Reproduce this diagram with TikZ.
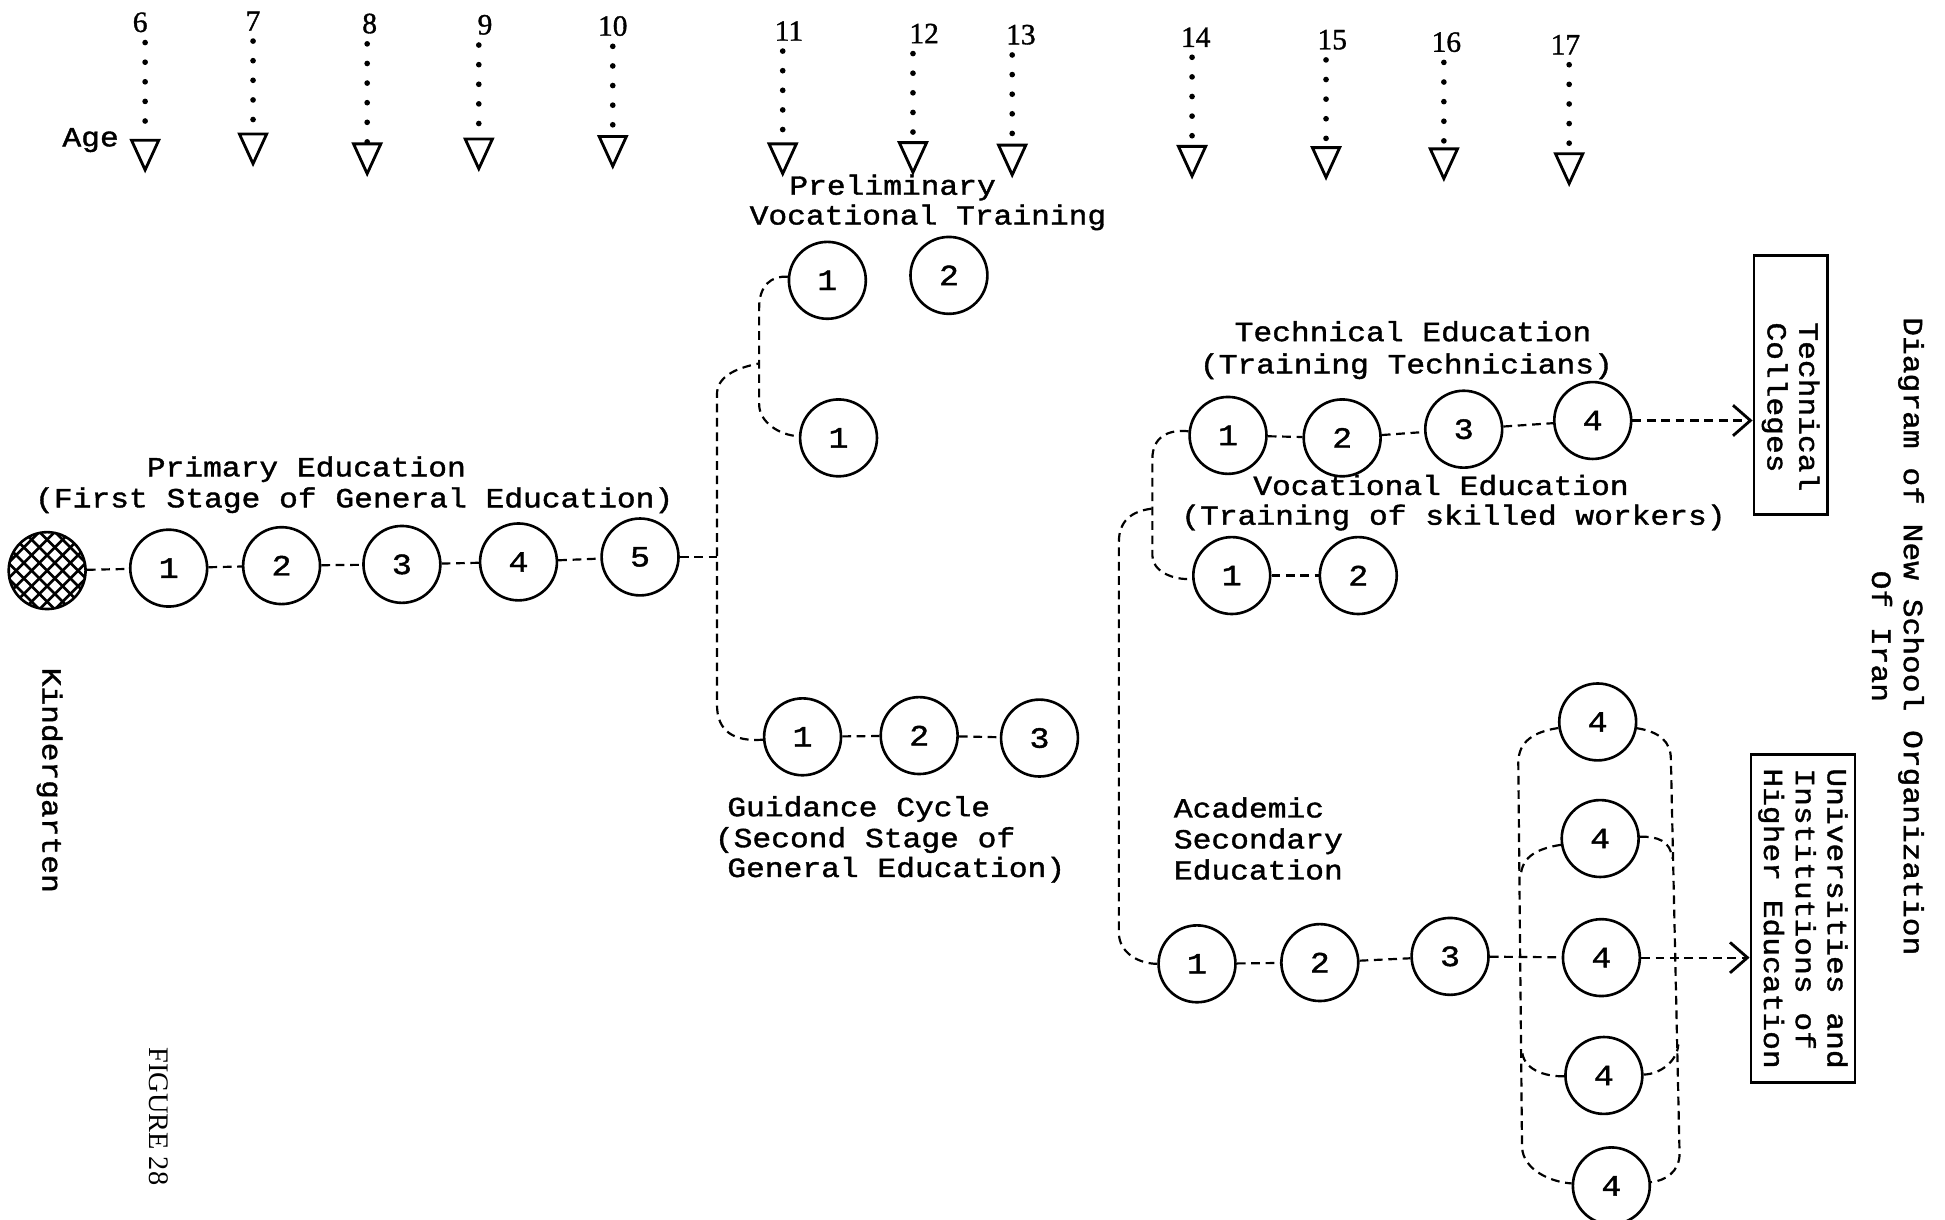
\documentclass[tikz,border=0pt]{standalone}
\usepackage{fontspec}
\setmainfont{Liberation Serif}
\newfontfamily\tw[FakeStretch=1.13, FakeBold=1.4]{Liberation Mono}
\newfontfamily\agefont[FakeBold=1.2]{Liberation Serif}
\usetikzlibrary{arrows.meta}

\begin{document}
\begin{tikzpicture}[x=0.02cm, y=-0.02cm,
  yr/.style={circle, draw, line width=1.2pt, minimum size=1.24cm, inner sep=0pt,
             font=\tw\fontsize{13.5}{13.5}\selectfont},
  lbl/.style={anchor=base west, inner sep=0pt, font=\tw\fontsize{12.7}{12.7}\selectfont},
  vlbl/.style={rotate=-90, inner sep=0pt, font=\tw\fontsize{12.7}{14.6}\selectfont},
  link/.style={line width=1pt, dash pattern=on 4pt off 2.6pt},
  feed/.style={link, -{Straight Barb[length=8pt, width=14pt, line width=1.3pt]}},
  agenum/.style={inner sep=0pt, font=\agefont\fontsize{13.5}{13.5}\selectfont},
  agedots/.style={line width=2.6pt, line cap=round, dash pattern=on 0pt off 9pt},
  agetip/.style={line width=1.3pt, line join=miter},
  hatch/.style={line width=1.2pt},
  endbox/.style={draw, line width=1.3pt, rotate=-90, align=left,
                 font=\tw\fontsize{12.7}{14.6}\selectfont},
]

\useasboundingbox (0,0) rectangle (1568,983);

% ---------- age scale ----------
\node[lbl] (age) at (50,118) {Age};
\foreach \a/\nx/\ny/\lx/\ty in {6/113/18/117/113, 7/204/17/204/108, 8/298/19/296/116,
    9/391/20/386/112, 10/494/21/494/110, 11/636/25/631/116, 12/745/27/736/115,
    13/823/28/816/117, 14/964/30/961/118, 15/1074/32/1069/119, 16/1166/34/1164/120,
    17/1262/36/1265/124} {
  \node[agenum] (n\a) at (\nx,\ny) {\a};
  \coordinate (t\a) at (\lx,\ty);
  \draw[agedots] (n\a.south -| t\a) ++(0,8) -- (t\a);
  \draw[agetip] (t\a) ++(-11,0) -- ++(22,0) -- ++(-11,24) -- cycle;
}

% ---------- primary education ----------
\node[lbl] (pe1) at (118,384) {Primary Education};
\node[lbl] (pe2) at (28,409) {(First Stage of General Education)};

\node[circle, draw, line width=1.2pt, minimum size=1.24cm, inner sep=0pt] (kg) at (38,460) {};
\begin{scope}
  \clip (kg.center) circle [radius=31];
  \foreach \d in {-6,...,6} {
    \draw[hatch] ([shift={(\d*12.5-40,-40)}]kg.center) -- ++(80,80);
    \draw[hatch] ([shift={(\d*12.5+40,-40)}]kg.center) -- ++(-80,80);
  }
\end{scope}
\node[vlbl] (kt) at (40,629) {Kindergarten};

\node[yr] (p1) at (136,458) {1};
\node[yr] (p2) at (227,456) {2};
\node[yr] (p3) at (324,455) {3};
\node[yr] (p4) at (418,453) {4};
\node[yr] (p5) at (516,449) {5};
\draw[link] (kg) -- (p1) (p1) -- (p2) (p2) -- (p3) (p3) -- (p4) (p4) -- (p5);

% ---------- preliminary vocational training ----------
\node[lbl] (pv1) at (636,157) {Preliminary};
\node[lbl] (pv2) at (604,181) {Vocational Training};
\node[yr] (v1) at (667,226) {1};
\node[yr] (v2) at (765,222) {2};
\node[yr] (v1b) at (676,353) {1};

% ---------- guidance cycle ----------
\node[yr] (g1) at (647,594) {1};
\node[yr] (g2) at (741,593) {2};
\node[yr] (g3) at (838,595) {3};
\draw[link] (g1) -- (g2) (g2) -- (g3);
\node[lbl] (gc1) at (586,658) {Guidance Cycle};
\node[lbl] (gc2) at (576,683) {(Second Stage of};
\node[lbl] (gc3) at (586,707) {General Education)};

% branching after the fifth year
\coordinate (pj) at (578,449);
\coordinate (vj) at (612,293);
\draw[link] (p5) -- (pj);
\draw[link] (g1) .. controls (592,598) and (578,590) .. (578,568) -- (578,318)
  .. controls (578,304) and (592,297) .. (vj);
\draw[link] (v1) .. controls (622,222) and (612,230) .. (612,248) -- (612,326)
  .. controls (612,340) and (628,351) .. (v1b);

% ---------- technical and vocational education ----------
\node[lbl] (te1) at (995,275) {Technical Education};
\node[lbl] (te2) at (967,301) {(Training Technicians)};
\node[lbl] (ve1) at (1010,399) {Vocational Education};
\node[lbl] (ve2) at (952,423) {(Training of skilled workers)};

\node[yr] (t1) at (990,351) {1};
\node[yr] (t2) at (1082,353) {2};
\node[yr] (t3) at (1180,346) {3};
\node[yr] (t4) at (1284,339) {4};
\node[yr] (w1) at (993,464) {1};
\node[yr] (w2) at (1095,464) {2};
\draw[link] (t1) -- (t2) (t2) -- (t3) (t3) -- (t4);
\draw[link] (w1) -- (w2);

\coordinate (tj) at (929,410);
\draw[link] (t1) .. controls (942,346) and (929,352) .. (929,370) -- (929,448)
  .. controls (929,460) and (945,468) .. (w1);

\node[endbox, minimum width=4.18cm, minimum height=1.18cm] (tc) at (1443.5,310.5)
  {\hspace*{0.7cm}Technical\\\hspace*{0.7cm}Colleges};
\draw[feed] (t4) -- (t4 -| tc.south);

% ---------- academic secondary education ----------
\node[lbl] (as1) at (946,659) {Academic};
\node[lbl] (as2) at (946,684) {Secondary};
\node[lbl] (as3) at (946,709) {Education};

\node[yr] (a1) at (965,777) {1};
\node[yr] (a2) at (1064,776) {2};
\node[yr] (a3) at (1169,771) {3};
\node[yr] (f1) at (1288,582) {4};
\node[yr] (f2) at (1290,676) {4};
\node[yr] (f3) at (1291,772) {4};
\node[yr] (f4) at (1293,867) {4};
\node[yr] (f5) at (1299,956) {4};

\draw[link] (a1) .. controls (918,777) and (902,768) .. (902,752) -- (902,437)
  .. controls (902,420) and (912,412) .. (tj);
\draw[link] (a1) -- (a2) (a2) -- (a3) (a3) -- (f3);

% rails joining the branches of the final year
\draw[link] (f1) .. controls (1236,590) and (1224,598) .. (1224,615) -- (1227,925)
  .. controls (1228,943) and (1250,953) .. (f5);
\draw[link] (f1) .. controls (1338,590) and (1347,598) .. (1347,612) -- (1354,930)
  .. controls (1354,945) and (1342,952) .. (f5);
\draw[link] (f2) .. controls (1240,684) and (1227,690) .. (1226,706);
\draw[link] (f2) .. controls (1336,674) and (1347,678) .. (1348,692);
\draw[link] (f4) .. controls (1245,868) and (1227,862) .. (1227,846);
\draw[link] (f4) .. controls (1338,866) and (1352,856) .. (1353,842);

\node[endbox, minimum width=5.3cm, minimum height=1.64cm] (ub) at (1453.5,740.5)
  {Universities and\\Institutions of\\Higher Education};
\draw[feed] (f3) -- (f3 -| ub.south);

% ---------- titles ----------
\node[vlbl, align=center] (title) at (1530,513)
  {Diagram of New School Organization\\Of Iran};
\node[rotate=-90, inner sep=0pt, font=\fontsize{13}{13}\selectfont] (fig) at (128,900)
  {FIGURE 28};

\end{tikzpicture}
\end{document}
